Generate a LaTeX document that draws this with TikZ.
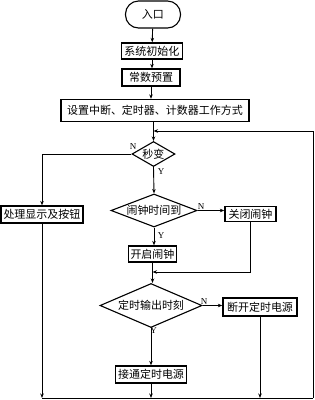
\documentclass[tikz,border=0pt]{standalone}
\usepackage{fontspec}
\setmainfont{Liberation Serif}
\newfontfamily\cjk{Noto Sans CJK SC}
\usetikzlibrary{shapes.geometric,arrows.meta}

\tikzset{
  box/.style={draw, line width=1.3pt, inner sep=0pt, font=\cjk\fontsize{11}{12}\selectfont},
  term/.style={box, line width=1.1pt, rounded corners=13pt},
  decide/.style={diamond, draw, line width=1.1pt, inner sep=0pt, font=\cjk\fontsize{11}{12}\selectfont},
  flow/.style={-{Stealth[length=4.5pt,width=3.5pt]}},
  yn/.style={inner sep=0pt, font=\fontsize{9}{10}\selectfont}
}

\begin{document}
\begin{tikzpicture}[x=1pt, y=-1pt, line width=0.9pt, line join=miter]

  % ════ 主干 ════
  \node[term, minimum width=55, minimum height=27] (entry) at (153,14.5) {入口};
  \node[box, minimum width=61, minimum height=16] (init) at (152,51) {系统初始化};
  \node[box, minimum width=58, minimum height=17] (preset) at (151,77.5) {常数预置};
  \node[box, minimum width=188, minimum height=22] (setup) at (155,110.5) {设置中断、定时器、计数器工作方式};

  % ════ 判断 ════
  \node[decide, aspect=1.7, minimum width=43, minimum height=25] (sec) at (153.5,154) {秒变};
  \node[decide, aspect=2.6, minimum width=86, minimum height=33] (alarm) at (154,210.5) {闹钟时间到};
  \node[decide, aspect=2.3, minimum width=102, minimum height=44] (timer) at (151,305.5) {定时输出时刻};

  % ════ 处理框 ════
  \node[box, minimum width=82, minimum height=17] (proc) at (42,214.5) {处理显示及按钮};
  \node[box, minimum width=51, minimum height=15] (off) at (250.5,214) {关闭闹钟};
  \node[box, minimum width=48, minimum height=16] (on) at (152.5,254) {开启闹钟};
  \node[box, minimum width=74, minimum height=18] (cut) at (260,307) {断开定时电源};
  \node[box, minimum width=71, minimum height=17] (conn) at (151,374.5) {接通定时电源};

  % ════ 汇合点 ════
  \coordinate (jn) at (153.5,131);
  \coordinate (mj) at (152.5,272);
  \coordinate (rb) at (313,398);

  % ════ 连线 ════
  \draw[flow] (entry) -- (init);
  \draw[flow] (init.south) -- (init.south |- preset.north);
  \draw[flow] (preset.south) -- (preset.south |- setup.north);
  \draw[flow] (setup.south -| sec.north) -- (sec.north);
  \draw[flow] (sec.west) -| (proc.north);
  \draw[flow] (sec.south) -- (alarm.north);
  \draw[flow] (alarm.east) -- (alarm.east -| off.west);
  \draw[flow] (alarm.south) -- (alarm.south |- on.north);
  \draw (on.south) -- (on.south |- mj);
  \draw[flow] (off.south) |- (mj);
  \draw[flow] (mj) -- (mj |- timer.north);
  \draw[flow] (timer.east) -- (timer.east -| cut.west);
  \draw[flow] (timer.south -| conn.north) -- (conn.north);

  % ⚠ 底部三支箭头落在回线上
  \draw[flow] (proc.south) -- (proc.south |- rb);
  \draw[flow] (conn.south) -- (conn.south |- rb);
  \draw[flow] (cut.south) -- (cut.south |- rb);
  \draw (proc.south |- rb) -- (rb);
  \draw[flow] (rb) |- (jn);

  % ════ 标签 ════
  \node[yn] (n1) at (133,146.5) {N};
  \node[yn] (y1) at (161,172) {Y};
  \node[yn] (n2) at (201,206.5) {N};
  \node[yn] (y2) at (161,236) {Y};
  \node[yn] (n3) at (204,301.5) {N};
  \node[yn] (y3) at (153.5,331) {Y};

  \path[use as bounding box] (0,0) rectangle (315,400);
\end{tikzpicture}
\end{document}
